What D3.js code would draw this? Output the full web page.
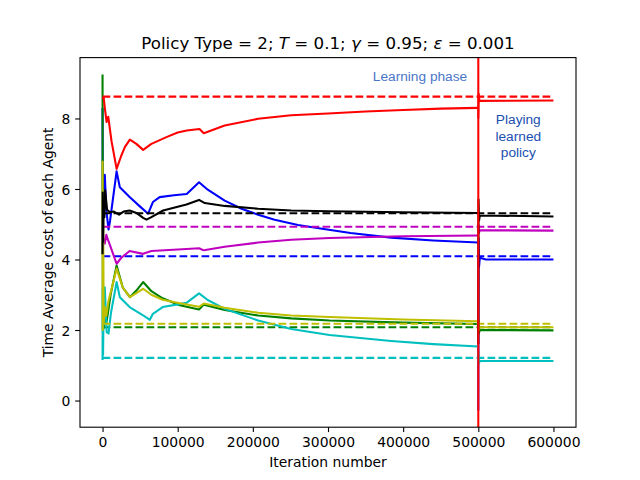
<!DOCTYPE html>
<html><head><meta charset="utf-8">
<script src="https://cdn.jsdelivr.net/npm/d3@7"></script>
<style>body{margin:0;background:#fff} svg{display:block}</style>
</head><body>
<svg id="c" width="640" height="480"></svg>
<script>
// ---------- DATA ----------
const agentColors = ['#0000ff','#008000','#ff0000','#00bfbf','#bf00bf','#bfbf00','#000000'];

// learning phase: [iteration, time-average cost]
const learnBlue = [[0,8.3],[400,4.15],[900,6.4],[1500,5.2],[3000,6.4],[5000,5.4],[8000,4.85],[10000,5.1],[18700,6.5],[23000,6.05],[36000,5.77],[50000,5.5],[60700,5.30],[67000,5.63],[76000,5.77],[95000,5.82],[112000,5.86],[128400,6.19],[140000,5.98],[162500,5.67],[185000,5.44],[207000,5.27],[229000,5.13],[260000,4.98],[290000,4.88],[330000,4.75],[384000,4.62],[440000,4.54],[500000,4.48]];
const learnGreen = [[0,9.25],[400,2.0],[900,3.0],[1600,2.05],[3000,2.3],[5000,2.2],[7000,2.46],[11000,3.03],[18700,3.83],[27000,3.2],[36400,2.93],[45000,3.12],[54000,3.36],[65000,3.1],[80000,2.9],[102800,2.70],[128400,2.58],[134700,2.72],[162500,2.57],[207000,2.41],[251000,2.33],[302000,2.27],[400000,2.21],[500000,2.17]];
const learnRed = [[0,8.55],[1500,8.6],[3000,8.3],[5400,7.9],[7600,8.05],[9800,7.7],[12000,7.35],[18700,6.57],[25000,6.95],[30000,7.2],[36400,7.40],[45000,7.28],[54000,7.11],[65000,7.28],[85000,7.47],[100000,7.6],[112000,7.66],[129000,7.70],[134700,7.58],[162500,7.80],[207000,7.99],[251000,8.09],[300000,8.14],[350000,8.2],[400000,8.24],[450000,8.28],[500000,8.30]];
const learnCyan = [[0,1.15],[300,3.2],[700,1.3],[1500,2.8],[3000,3.21],[5500,1.94],[8000,1.9],[11000,2.46],[18700,3.36],[23000,2.93],[36000,2.65],[55000,2.4],[63000,2.29],[67000,2.46],[80000,2.65],[111700,2.77],[128400,3.04],[140000,2.85],[162500,2.60],[207000,2.27],[251000,2.03],[302000,1.86],[384000,1.69],[440000,1.60],[500000,1.53]];
const learnMagenta = [[0,4.9],[1000,4.6],[3000,4.45],[5000,4.7],[7500,4.54],[10000,4.4],[18700,3.88],[25000,4.05],[36000,4.24],[54000,4.16],[65000,4.24],[111700,4.30],[128400,4.32],[134700,4.26],[162500,4.36],[207000,4.48],[251000,4.56],[302000,4.61],[400000,4.66],[500000,4.68]];
const learnYellow = [[0,6.8],[300,2.0],[800,5.7],[1500,2.2],[3000,2.65],[5000,2.4],[8000,2.83],[11000,3.08],[18700,3.74],[27000,3.2],[36400,2.93],[54000,3.17],[65000,3.0],[80000,2.86],[102800,2.76],[128400,2.66],[134700,2.75],[162500,2.63],[207000,2.49],[251000,2.41],[302000,2.37],[400000,2.30],[500000,2.25]];
const learnBlack = [[0,4.15],[300,5.9],[800,4.5],[1500,5.6],[2500,5.2],[3500,5.96],[6000,5.41],[10000,5.34],[15000,5.36],[22000,5.27],[28000,5.36],[36000,5.39],[46000,5.31],[54000,5.18],[58500,5.13],[65000,5.2],[80600,5.39],[111700,5.56],[128400,5.69],[136000,5.60],[162500,5.52],[207000,5.44],[251000,5.39],[300000,5.37],[400000,5.34],[500000,5.32]];

// playing learned policy
const playBlue = [[500000,-0.28],[500400,4.6],[501000,3.8],[502000,4.05],[510000,4.0],[600000,4.0]];
const playGreen = [[500000,2.3],[500700,1.9],[502000,2.0],[600000,1.99]];
const playRed = [[500000,8.0],[500500,8.7],[501500,8.5],[600000,8.51]];
const playCyan = [[500000,1.4],[500800,1.05],[502000,1.12],[600000,1.12]];
const playMagenta = [[500000,5.0],[500800,4.75],[502000,4.83],[600000,4.82]];
const playYellow = [[500000,2.3],[500800,2.0],[502000,2.08],[600000,2.08]];
const playBlack = [[500000,1.6],[500300,5.7],[501000,5.1],[502000,5.25],[600000,5.22]];

// reference (dashed) cost per agent
const optimalCost = [4.09, 2.08, 8.62, 1.21, 4.93, 2.18, 5.31];
const dashSpan = [0, 600000];
const phaseBoundary = 500000;

const xTicks = [0,100000,200000,300000,400000,500000,600000];
const yTicks = [0,2,4,6,8];

const learnSeries = [learnBlue, learnGreen, learnRed, learnCyan, learnMagenta, learnYellow, learnBlack];
const playSeries = [playBlue, playGreen, playRed, playCyan, playMagenta, playYellow, playBlack];

// ---------- DRAW ----------
const W=640, H=480, L=80, R=576, T=57.6, B=427.2;
const svg = d3.select('#c');
svg.append('rect').attr('width',W).attr('height',H).attr('fill','#fff');

const allPts = learnSeries.concat(playSeries).flat();
const xExt = d3.extent(allPts.map(d=>d[0]).concat(dashSpan));
const yExt = d3.extent(allPts.map(d=>d[1]).concat(optimalCost));
const xp = (xExt[1]-xExt[0])*0.05, yp = (yExt[1]-yExt[0])*0.05;
const x = d3.scaleLinear().domain([xExt[0]-xp, xExt[1]+xp]).range([L,R]);
const y = d3.scaleLinear().domain([yExt[0]-yp, yExt[1]+yp]).range([B,T]);

svg.append('clipPath').attr('id','clip').append('rect')
  .attr('x',L).attr('y',T).attr('width',R-L).attr('height',B-T);
const g = svg.append('g').attr('clip-path','url(#clip)');
const line = d3.line().x(d=>x(d[0])).y(d=>y(d[1]));
const lw = 2.08;

agentColors.forEach((c,i)=>{
  g.append('path').attr('d', line(learnSeries[i])).attr('fill','none')
    .attr('stroke',c).attr('stroke-width',lw).attr('stroke-linejoin','round');
  g.append('path').attr('d', line(playSeries[i])).attr('fill','none')
    .attr('stroke',c).attr('stroke-width',lw).attr('stroke-linejoin','round');
  g.append('path').attr('d', line(dashSpan.map(v=>[v, optimalCost[i]]))).attr('fill','none')
    .attr('stroke',c).attr('stroke-width',lw).attr('stroke-dasharray','7.7,3.3');
});

g.append('line').attr('x1',x(phaseBoundary)).attr('x2',x(phaseBoundary))
  .attr('y1',T).attr('y2',B).attr('stroke','#ff0000').attr('stroke-width',lw);

// annotations
svg.append('text').attr('x',420).attr('y',80.7).attr('text-anchor','middle')
  .attr('font-family','Liberation Sans, Arial, sans-serif').attr('font-size',13.7)
  .attr('fill','#4a76c8').text('Learning phase');
const play = svg.append('text').attr('text-anchor','middle')
  .attr('font-family','Liberation Sans, Arial, sans-serif').attr('font-size',13.7)
  .attr('fill','#1a4fb0');
['Playing','learned','policy'].forEach((t,k)=>{
  play.append('tspan').attr('x',518.3).attr('y',124.3+k*16.4).text(t);
});

// axes
const font = 'DejaVu Sans, sans-serif';
const xa = svg.append('g').attr('transform',`translate(0,${B})`)
  .call(d3.axisBottom(x).tickValues(xTicks).tickFormat(d3.format('d')).tickSize(4.86).tickPadding(4.86));
const ya = svg.append('g').attr('transform',`translate(${L},0)`)
  .call(d3.axisLeft(y).tickValues(yTicks).tickFormat(d3.format('d')).tickSize(4.86).tickPadding(4.86));
[xa,ya].forEach(a=>{
  a.select('.domain').remove();
  a.selectAll('line').attr('stroke','#000').attr('stroke-width',1.1);
  a.selectAll('text').attr('font-family',font).attr('font-size',13.9).attr('fill','#000');
});
xa.selectAll('text').attr('dy',null).attr('y',20.3);
ya.selectAll('text').attr('dy','0.36em');

svg.append('rect').attr('x',L).attr('y',T).attr('width',R-L).attr('height',B-T)
  .attr('fill','none').attr('stroke','#000').attr('stroke-width',1.1);

svg.append('text').attr('x',(L+R)/2).attr('y',467).attr('text-anchor','middle')
  .attr('font-family',font).attr('font-size',13.9).text('Iteration number');
svg.append('text').attr('transform',`translate(52.6,${(T+B)/2}) rotate(-90)`).attr('text-anchor','middle')
  .attr('font-family',font).attr('font-size',13.9).text('Time Average cost of each Agent');

const title = svg.append('text').attr('x',(L+R)/2).attr('y',49.3).attr('text-anchor','middle')
  .attr('font-family',font).attr('font-size',16.67);
[['Policy Type = 2; ',false],['T',true],[' = 0.1; ',false],['γ',true],[' = 0.95; ',false],['ε',true],[' = 0.001',false]]
  .forEach(([t,it])=>{ title.append('tspan').attr('font-style',it?'italic':'normal').text(t); });
</script>
</body></html>
